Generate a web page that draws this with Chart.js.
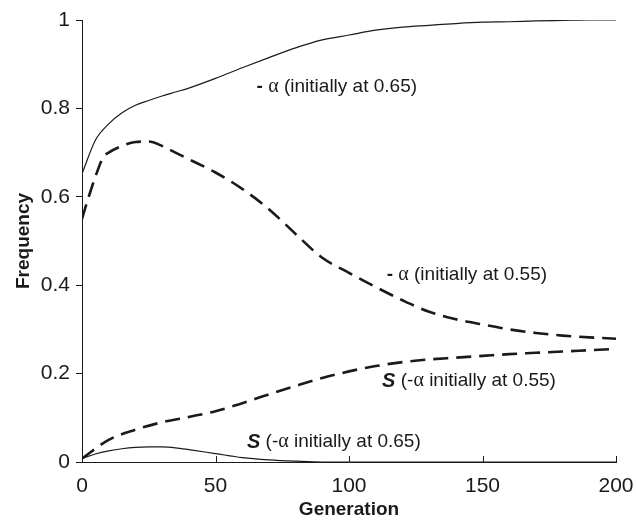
<!DOCTYPE html>
<html>
<head>
<meta charset="utf-8">
<script src="https://cdn.jsdelivr.net/npm/chart.js"></script>
<style>
  html, body { margin: 0; padding: 0; background: #fff; }
  #wrap { width: 636px; height: 521px; }
</style>
</head>
<body>
<div id="wrap"><canvas id="chart"></canvas></div>
<script>
// values
var genA65 = [0, 5, 10, 15, 20, 25, 30, 35, 40, 50, 60, 70, 80, 90, 100, 110, 120, 130, 140, 150, 160, 170, 180, 190, 200];
var alpha65 = [0.652, 0.728, 0.765, 0.79, 0.807, 0.818, 0.828, 0.837, 0.846, 0.868, 0.892, 0.915, 0.937, 0.955, 0.966, 0.977, 0.984, 0.988, 0.992, 0.995, 0.996, 0.998, 0.999, 1.0, 1.0];

var genA55 = [0, 2, 5, 8, 10, 15, 20, 25, 30, 35, 40, 50, 60, 70, 80, 90, 100, 110, 120, 130, 140, 150, 160, 170, 180, 190, 200];
var alpha55 = [0.55, 0.59, 0.645, 0.69, 0.70, 0.715, 0.724, 0.725, 0.715, 0.70, 0.685, 0.655, 0.618, 0.572, 0.516, 0.462, 0.428, 0.396, 0.366, 0.340, 0.323, 0.311, 0.300, 0.292, 0.286, 0.282, 0.279];

var genS55 = [0, 10, 20, 30, 40, 50, 60, 70, 80, 90, 100, 110, 120, 130, 140, 150, 160, 170, 180, 190, 200];
var s55 = [0.008, 0.05, 0.073, 0.09, 0.102, 0.115, 0.133, 0.153, 0.172, 0.19, 0.205, 0.217, 0.226, 0.232, 0.236, 0.240, 0.244, 0.247, 0.25, 0.253, 0.256];

var genS65 = [0, 5, 10, 15, 20, 25, 30, 35, 40, 50, 60, 70, 80, 90, 100, 150, 200];
var s65 = [0.008, 0.018, 0.025, 0.030, 0.033, 0.034, 0.034, 0.032, 0.028, 0.019, 0.010, 0.005, 0.002, 0.0, 0.0, 0.0, 0.0];

var xTicks = [0, 50, 100, 150, 200];
var yTicks = [0, 0.2, 0.4, 0.6, 0.8, 1];

// curve labels: text pieces with a style each, then position in data units
var curveLabels = [
    {parts: [['-', 'dash'], [' ', 'plain'], ['α', 'greek'], [' (initially at 0.65)', 'plain']], x: 65.4, y: 0.85},
    {parts: [['-', 'dash'], [' ', 'plain'], ['α', 'greek'], [' (initially at 0.55)', 'plain']], x: 114.1, y: 0.424},
    {parts: [['S', 'S'], [' (-', 'plain'], ['α', 'greek'], [' initially at 0.55)', 'plain']], x: 112.4, y: 0.183},
    {parts: [['S', 'S'], [' (-', 'plain'], ['α', 'greek'], [' initially at 0.65)', 'plain']], x: 61.8, y: 0.045}
];

var ink = '#1a1a1a';
var fontName = '"Liberation Sans", Arial, sans-serif';
var styles = {
    plain: '19px ' + fontName,
    dash: 'bold 19px ' + fontName,
    S: 'italic bold 20px ' + fontName,
    greek: '20px "Liberation Serif", "DejaVu Serif", serif'
};

function pts(xs, ys) {
    var out = [];
    for (var i = 0; i < xs.length; i++) out.push({x: xs[i], y: ys[i]});
    return out;
}

var extras = {
    id: 'extras',
    afterDraw: function(chart) {
        var ctx = chart.ctx;
        var xs = chart.scales.x, ys = chart.scales.y;
        ctx.save();
        // inward tick marks on the x axis
        ctx.strokeStyle = ink;
        ctx.lineWidth = 1;
        xTicks.forEach(function(t) {
            if (t === 0) return;
            var px = Math.round(xs.getPixelForValue(t)) + 0.5;
            ctx.beginPath();
            ctx.moveTo(px, ys.bottom);
            ctx.lineTo(px, ys.bottom - 6);
            ctx.stroke();
        });
        // curve labels
        ctx.fillStyle = ink;
        ctx.textBaseline = 'middle';
        curveLabels.forEach(function(l) {
            var px = xs.getPixelForValue(l.x);
            var py = ys.getPixelForValue(l.y);
            l.parts.forEach(function(p) {
                ctx.font = styles[p[1]];
                ctx.fillText(p[0], px, py);
                px += ctx.measureText(p[0]).width;
            });
        });
        ctx.restore();
    }
};

new Chart(document.getElementById('chart'), {
    type: 'line',
    data: {
        datasets: [
            {data: pts(genA65, alpha65), borderColor: ink, borderWidth: 1.2, pointRadius: 0, cubicInterpolationMode: 'monotone', fill: false},
            {data: pts(genA55, alpha55), borderColor: ink, borderWidth: 2.6, borderDash: [15, 8], pointRadius: 0, cubicInterpolationMode: 'monotone', fill: false},
            {data: pts(genS55, s55), borderColor: ink, borderWidth: 2.6, borderDash: [15, 8], pointRadius: 0, cubicInterpolationMode: 'monotone', fill: false},
            {data: pts(genS65, s65), borderColor: ink, borderWidth: 1.2, pointRadius: 0, cubicInterpolationMode: 'monotone', fill: false}
        ]
    },
    options: {
        responsive: true,
        maintainAspectRatio: false,
        animation: false,
        layout: {padding: {top: 20, right: 20, left: 0, bottom: 0}},
        plugins: {legend: {display: false}, tooltip: {enabled: false}},
        scales: {
            x: {
                type: 'linear', min: 0, max: 200,
                afterBuildTicks: function(s) { s.ticks = xTicks.map(function(v) { return {value: v}; }); },
                afterFit: function(s) { s.height = 59; s.paddingLeft = 0; s.paddingRight = 0; },
                grid: {display: true, drawOnChartArea: false, drawTicks: false},
                border: {display: true, color: ink, width: 1},
                ticks: {color: ink, font: {family: fontName, size: 21, lineHeight: 1}, padding: 14, maxRotation: 0},
                title: {display: true, text: 'Generation', color: ink, font: {family: fontName, size: 19, weight: 'bold', lineHeight: 1}, padding: {top: 2, bottom: 2}}
            },
            y: {
                min: 0, max: 1,
                afterBuildTicks: function(s) { s.ticks = yTicks.map(function(v) { return {value: v}; }); },
                afterFit: function(s) { s.width = 82; s.paddingTop = 0; s.paddingBottom = 0; },
                grid: {display: true, drawOnChartArea: false, drawTicks: true, tickLength: 6, color: ink},
                border: {display: true, color: ink, width: 1},
                ticks: {color: ink, font: {family: fontName, size: 21}, padding: 6,
                        callback: function(v) { return String(Math.round(v * 10) / 10); }},
                title: {display: true, text: 'Frequency', color: ink, font: {family: fontName, size: 19, weight: 'bold'}, padding: {top: 12, bottom: 0}}
            }
        }
    },
    plugins: [extras]
});
</script>
</body>
</html>
